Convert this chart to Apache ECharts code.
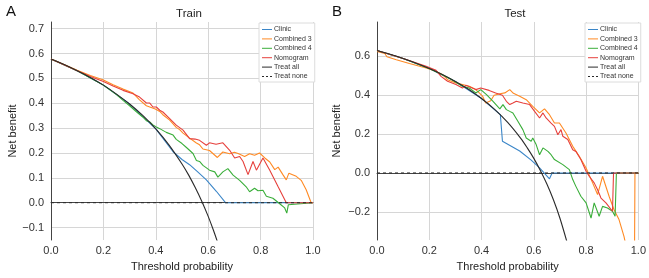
<!DOCTYPE html>
<html>
<head>
<meta charset="utf-8">
<script src="https://cdn.jsdelivr.net/npm/echarts@6/dist/echarts.min.js"></script>
<style>
html,body{margin:0;padding:0;background:#fff;}
#chart{width:649px;height:278px;}
</style>
</head>
<body>
<div id="chart"></div>
<script>
// ---------- tick labels ----------
const xTicks = [0, 0.2, 0.4, 0.6, 0.8, 1.0];
const trainYTicks = [-0.1, 0, 0.1, 0.2, 0.3, 0.4, 0.5, 0.6, 0.7];
const testYTicks = [-0.2, 0, 0.2, 0.4, 0.6];
const seriesNames = ['Clinic', 'Combined 3', 'Combined 4', 'Nomogram', 'Treat all', 'Treat none'];
const panelTitles = ['Train', 'Test'];

// ---------- Train panel ----------
const trainClinic = [[0,0.578],[0.1,0.531],[0.2,0.473],[0.3,0.397],[0.4,0.297],[0.466,0.205],[0.5,0.174],[0.529,0.153],[0.56,0.124],[0.593,0.092],[0.631,0.046],[0.666,0],[1,0]];
const trainCombined3 = [[0,0.578],[0.05,0.556],[0.1,0.533],[0.15,0.512],[0.198,0.495],[0.237,0.475],[0.275,0.457],[0.313,0.441],[0.338,0.414],[0.364,0.390],[0.377,0.385],[0.398,0.377],[0.415,0.367],[0.427,0.354],[0.453,0.332],[0.478,0.303],[0.491,0.294],[0.504,0.280],[0.529,0.260],[0.555,0.240],[0.567,0.233],[0.58,0.216],[0.605,0.210],[0.635,0.182],[0.656,0.204],[0.682,0.197],[0.700,0.203],[0.714,0.198],[0.720,0.204],[0.739,0.186],[0.758,0.197],[0.777,0.191],[0.796,0.200],[0.816,0.180],[0.835,0.164],[0.854,0.133],[0.867,0.143],[0.885,0.113],[0.898,0.092],[0.908,0.119],[0.913,0.124],[0.936,0.106],[0.955,0.090],[0.974,0.052],[0.993,0],[1,0]];
const trainCombined4 = [[0,0.578],[0.1,0.531],[0.2,0.473],[0.25,0.435],[0.275,0.412],[0.3,0.390],[0.326,0.366],[0.35,0.345],[0.364,0.330],[0.377,0.325],[0.389,0.313],[0.402,0.305],[0.415,0.298],[0.44,0.283],[0.466,0.272],[0.478,0.255],[0.5,0.238],[0.517,0.222],[0.542,0.198],[0.555,0.170],[0.567,0.166],[0.580,0.150],[0.605,0.131],[0.625,0.124],[0.637,0.103],[0.656,0.124],[0.675,0.137],[0.695,0.111],[0.720,0.090],[0.745,0.064],[0.758,0.044],[0.777,0.058],[0.790,0.048],[0.809,0.050],[0.822,0.026],[0.847,0.018],[0.873,-0.004],[0.892,-0.021],[0.900,-0.042],[0.906,-0.008],[0.911,0],[1,0]];
const trainNomogram = [[0,0.578],[0.1,0.531],[0.15,0.508],[0.2,0.488],[0.237,0.470],[0.275,0.452],[0.313,0.438],[0.338,0.425],[0.364,0.401],[0.377,0.401],[0.389,0.385],[0.402,0.385],[0.415,0.372],[0.427,0.365],[0.453,0.338],[0.478,0.312],[0.504,0.292],[0.529,0.258],[0.55,0.256],[0.567,0.251],[0.593,0.231],[0.605,0.241],[0.630,0.235],[0.656,0.241],[0.682,0.211],[0.701,0.180],[0.720,0.186],[0.733,0.166],[0.752,0.113],[0.771,0.166],[0.784,0.131],[0.809,0.180],[0.835,0.131],[0.867,0.064],[0.898,0],[1,0]];
const trainTreatAll = [[0,0.578],[0.05,0.556],[0.1,0.531],[0.15,0.504],[0.2,0.473],[0.25,0.437],[0.3,0.397],[0.35,0.351],[0.4,0.297],[0.45,0.233],[0.5,0.156],[0.525,0.112],[0.55,0.062],[0.575,0.007],[0.6,-0.055],[0.62,-0.111],[0.64,-0.172]];
const trainTreatNone = [[0,0],[1,0]];

// ---------- Test panel ----------
const testClinic = [[0,0.63],[0.1,0.589],[0.2,0.538],[0.3,0.471],[0.4,0.383],[0.472,0.300],[0.480,0.163],[0.546,0.113],[0.59,0.066],[0.622,0.026],[0.660,-0.030],[0.670,0],[1,0]];
const testCombined3 = [[0,0.625],[0.03,0.615],[0.038,0.598],[0.074,0.583],[0.124,0.563],[0.188,0.540],[0.226,0.523],[0.251,0.506],[0.270,0.480],[0.302,0.463],[0.327,0.455],[0.353,0.446],[0.378,0.429],[0.404,0.395],[0.416,0.360],[0.435,0.372],[0.448,0.400],[0.470,0.408],[0.489,0.412],[0.508,0.429],[0.514,0.432],[0.522,0.410],[0.546,0.395],[0.571,0.377],[0.596,0.343],[0.622,0.309],[0.641,0.330],[0.660,0.300],[0.679,0.257],[0.698,0.257],[0.723,0.206],[0.749,0.137],[0.774,0.086],[0.800,0.026],[0.825,-0.051],[0.844,-0.111],[0.863,-0.017],[0.888,-0.120],[0.907,-0.189],[0.926,-0.240],[0.945,-0.326],[0.96,-0.42],[0.985,-0.5],[0.987,0],[1,0]];
const testCombined4 = [[0,0.63],[0.1,0.589],[0.2,0.538],[0.28,0.485],[0.302,0.467],[0.327,0.446],[0.353,0.437],[0.378,0.412],[0.397,0.429],[0.419,0.403],[0.444,0.369],[0.470,0.330],[0.482,0.352],[0.495,0.326],[0.508,0.317],[0.520,0.309],[0.539,0.266],[0.558,0.223],[0.571,0.180],[0.590,0.163],[0.596,0.180],[0.609,0.146],[0.622,0.094],[0.635,0.129],[0.654,0.111],[0.666,0.094],[0.679,0.069],[0.711,0.043],[0.736,0.017],[0.749,-0.034],[0.761,-0.069],[0.780,-0.120],[0.800,-0.154],[0.819,-0.232],[0.831,-0.154],[0.850,-0.223],[0.863,-0.172],[0.882,-0.180],[0.901,-0.197],[0.911,-0.223],[0.916,0],[1,0]];
const testNomogram = [[0,0.63],[0.1,0.589],[0.188,0.549],[0.226,0.528],[0.245,0.497],[0.270,0.472],[0.302,0.455],[0.327,0.437],[0.340,0.451],[0.378,0.429],[0.397,0.437],[0.429,0.425],[0.454,0.412],[0.480,0.400],[0.495,0.369],[0.508,0.352],[0.520,0.360],[0.533,0.369],[0.558,0.360],[0.584,0.352],[0.603,0.317],[0.609,0.326],[0.622,0.283],[0.635,0.309],[0.647,0.283],[0.666,0.257],[0.679,0.240],[0.692,0.197],[0.704,0.223],[0.711,0.189],[0.730,0.172],[0.749,0.120],[0.761,0.111],[0.780,0.069],[0.800,0.009],[0.812,-0.017],[0.831,-0.051],[0.844,-0.086],[0.857,-0.129],[0.876,-0.154],[0.901,-0.197],[0.905,0],[1,0]];
const testTreatAll = [[0,0.63],[0.05,0.611],[0.1,0.589],[0.15,0.565],[0.2,0.538],[0.25,0.507],[0.3,0.471],[0.35,0.431],[0.4,0.383],[0.45,0.327],[0.5,0.26],[0.55,0.178],[0.575,0.129],[0.6,0.075],[0.625,0.013],[0.65,-0.057],[0.675,-0.138],[0.7,-0.233],[0.73,-0.370]];
const testTreatNone = [[0,0],[1,0]];

const colors = {
  'Clinic': '#3b86c8',
  'Combined 3': '#ff8a24',
  'Combined 4': '#3aae3a',
  'Nomogram': '#e6403c',
  'Treat all': '#2a2a2a',
  'Treat none': '#2a2a2a'
};

const panels = [
  {data: [trainClinic, trainCombined3, trainCombined4, trainNomogram, trainTreatAll, trainTreatNone], yTicks: trainYTicks, ymin: -0.15, ymax: 0.727},
  {data: [testClinic, testCombined3, testCombined4, testNomogram, testTreatAll, testTreatNone], yTicks: testYTicks, ymin: -0.345, ymax: 0.777}
];

const FONT = "'Liberation Sans', Arial, Helvetica, sans-serif";
const gridLeft = [51, 377];

const series = [];
panels.forEach((p, gi) => {
  p.data.forEach((d, si) => {
    const name = seriesNames[si];
    series.push({
      name: name,
      type: 'line',
      xAxisIndex: gi,
      yAxisIndex: gi,
      data: d,
      symbol: 'none',
      smooth: name === 'Treat all' ? 0.3 : false,
      clip: true,
      lineStyle: {
        color: colors[name],
        width: name === 'Treat none' ? 1 : 1.1,
        type: name === 'Treat none' ? [3, 3] : 'solid'
      },
      itemStyle: {color: colors[name]},
      z: 2 + si
    });
  });
});

const xAxes = panels.map((p, gi) => ({
  type: 'value', gridIndex: gi, min: 0, max: 1, interval: 0.2,
  name: 'Threshold probability', nameLocation: 'middle', nameGap: 21,
  nameTextStyle: {fontFamily: FONT, fontSize: 11, color: '#222'},
  axisLine: {show: true, lineStyle: {color: '#444', width: 1}},
  axisTick: {show: false},
  axisLabel: {fontFamily: FONT, fontSize: 11, color: '#333', margin: 5, formatter: v => v.toFixed(1)},
  splitLine: {show: true, lineStyle: {color: '#d6d6d6', width: 1}}
}));

const yAxes = panels.map((p, gi) => ({
  type: 'value', gridIndex: gi, min: p.ymin, max: p.ymax,
  name: 'Net benefit', nameLocation: 'middle', nameGap: gi === 0 ? 33 : 35,
  nameTextStyle: {fontFamily: FONT, fontSize: 11, color: '#222'},
  axisLine: {show: true, onZero: false, lineStyle: {color: '#444', width: 1}},
  axisTick: {show: false, customValues: p.yTicks},
  axisLabel: {fontFamily: FONT, fontSize: 11, color: '#333', margin: 7, customValues: p.yTicks,
    formatter: v => (v < 0 ? '\u2212' + Math.abs(v).toFixed(1) : v.toFixed(1))},
  splitLine: {show: true, lineStyle: {color: '#d6d6d6', width: 1}}
}));

const solidIcon = 'path://M0,0h10v1h-10z';
const dashIcon = 'path://M0,0h2v1h-2z M4,0h2v1h-2z M8,0h2v1h-2z';
const legendData = seriesNames.map(n => ({name: n, icon: n === 'Treat none' ? dashIcon : solidIcon}));

const legends = gridLeft.map((gl, gi) => ({
  orient: 'vertical',
  left: gi === 0 ? 259 : 585,
  top: 23,
  data: legendData,
  itemWidth: 10,
  itemHeight: 1.2,
  itemGap: 2.4,
  padding: [3, 3, 2, 3],
  backgroundColor: '#fff',
  borderColor: '#dcdcdc',
  borderWidth: 1,
  borderRadius: 0,
  selectedMode: false,
  itemStyle: {borderWidth: 0},
  textStyle: {fontFamily: FONT, fontSize: 7, color: '#333', lineHeight: 7, padding: [0, 0, 0, -3]}
}));

const option = {
  animation: false,
  backgroundColor: '#fff',
  title: [
    {text: 'A', left: 1, top: -1, textStyle: {fontFamily: FONT, fontSize: 15, fontWeight: 'normal', color: '#111'}},
    {text: 'B', left: 327, top: -1, textStyle: {fontFamily: FONT, fontSize: 15, fontWeight: 'normal', color: '#111'}},
    {text: panelTitles[0], left: 184, top: 3, textAlign: 'center', textStyle: {fontFamily: FONT, fontSize: 11.5, fontWeight: 'normal', color: '#222'}},
    {text: panelTitles[1], left: 510, top: 3, textAlign: 'center', textStyle: {fontFamily: FONT, fontSize: 11.5, fontWeight: 'normal', color: '#222'}}
  ],
  grid: [
    {left: gridLeft[0], top: 22, width: 262, height: 218, containLabel: false},
    {left: gridLeft[1], top: 22, width: 262, height: 218, containLabel: false}
  ],
  legend: legends,
  xAxis: xAxes,
  yAxis: yAxes,
  series: series
};

const chart = echarts.init(document.getElementById('chart'), null, {renderer: 'canvas'});
chart.setOption(option);
</script>
</body>
</html>
